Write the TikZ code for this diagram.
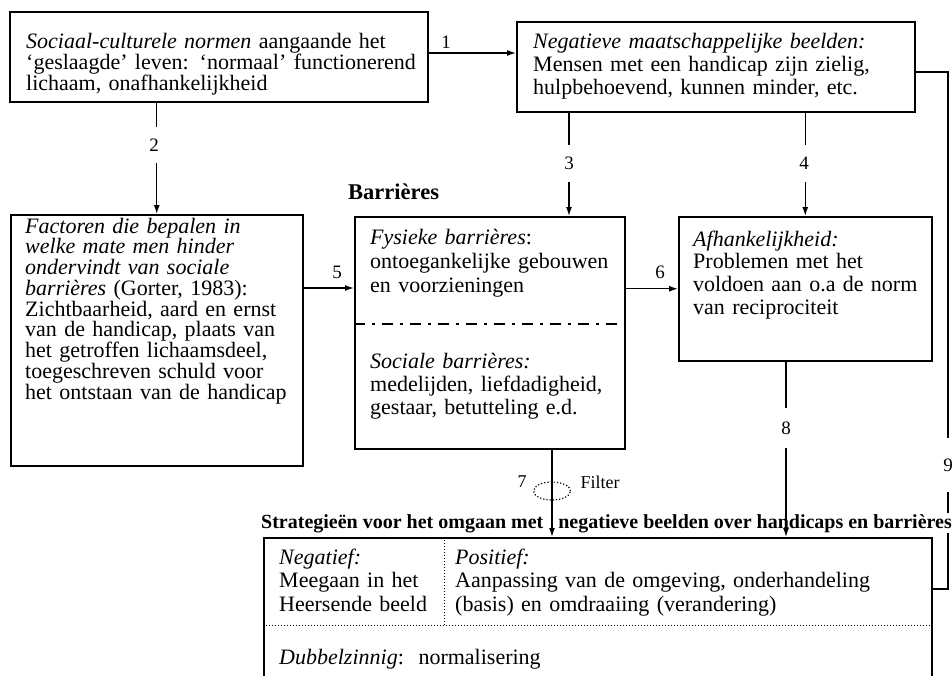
\documentclass[tikz,border=0pt]{standalone}
\usepackage{fontspec}
\setmainfont{Liberation Serif}
\usetikzlibrary{arrows.meta,shapes.geometric}
\begin{document}
\begin{tikzpicture}[x=1pt,y=-1pt,
  box/.style={draw, line width=1.5pt, inner sep=0pt, anchor=north west},
  txt/.style={anchor=base west, inner sep=0pt, text width=430pt, align=left},
  con/.style={line width=1.4pt},
  arr/.style={con, -{Latex[length=9pt,width=6pt]}},
  num/.style={font=\fontsize{19}{19}\selectfont, inner sep=0pt},
  gapnum/.style={num, fill=white, minimum width=12pt},
]
\useasboundingbox (0,0) rectangle (952,675);

% boxes
\node[box, minimum width=418pt, minimum height=90pt] (tl) at (9,11) {};
\node[box, minimum width=398pt, minimum height=90pt] (nb) at (516,21) {};
\node[box, minimum width=292pt, minimum height=251pt] (fac) at (10,214) {};
\node[box, minimum width=270pt, minimum height=232pt] (fys) at (354,216) {};
\node[box, minimum width=253pt, minimum height=144pt] (afh) at (678,216) {};
\node[box, minimum width=668pt, minimum height=170pt] (bb) at (263,537) {};

% dividers
\draw[line width=2.4pt, dash pattern=on 11pt off 7pt on 3pt off 7pt] (354,324) -- (624,324);
\draw[line width=1pt, dotted] (444,537) -- (444,625);
\draw[line width=1pt, dotted] (263,625) -- (931,625);

% texts
\node[txt, font=\fontsize{22}{20}\selectfont] (tlT) at (26,48)
 {\textit{Sociaal-culturele normen} aangaande het\\‘geslaagde’ leven: ‘normaal’ functionerend\\lichaam, onafhankelijkheid};
\node[txt, font=\fontsize{22}{23}\selectfont] (nbT) at (533,48)
 {\textit{Negatieve maatschappelijke beelden:}\\Mensen met een handicap zijn zielig,\\hulpbehoevend, kunnen minder, etc.};
\node[txt, font=\fontsize{22}{20.75}\selectfont] (facT) at (25,233)
 {\textit{Factoren die bepalen in}\\\textit{welke mate men hinder}\\\textit{ondervindt van sociale}\\\textit{barrières} (Gorter, 1983):\\Zichtbaarheid, aard en ernst\\van de handicap, plaats van\\het getroffen lichaamsdeel,\\toegeschreven schuld voor\\het ontstaan van de handicap};
\node[txt, font=\fontsize{22}{24}\selectfont] (fysT) at (370,244)
 {\textit{Fysieke barrières}:\\ontoegankelijke gebouwen\\en voorzieningen};
\node[txt, font=\fontsize{22}{23}\selectfont] (socT) at (370,368)
 {\textit{Sociale barrières:}\\\makebox[238pt][s]{medelijden, liefdadigheid,}\\gestaar, betutteling e.d.};
\node[txt, font=\fontsize{22}{22.7}\selectfont] (afhT) at (693,246)
 {\textit{Afhankelijkheid:}\\Problemen met het\\voldoen aan o.a de norm\\van reciprociteit};
\node[txt, font=\fontsize{22}{23.5}\selectfont] (negT) at (279,564)
 {\textit{Negatief:}\\Meegaan in het\\Heersende beeld};
\node[txt, font=\fontsize{22}{23.5}\selectfont] (posT) at (455,564)
 {\textit{Positief:}\\Aanpassing van de omgeving, onderhandeling\\(basis) en omdraaiing (verandering)};
\node[txt, font=\fontsize{22}{23.5}\selectfont] (dubT) at (279,664)
 {\textit{Dubbelzinnig}:\ \ normalisering};
\node[anchor=base west, inner sep=0pt, font=\fontsize{22.5}{24}\selectfont\bfseries] (barr) at (348,199) {Barrières};

% helper coordinates
\coordinate (y1) at (0,53);
\coordinate (y5) at (0,288);
\coordinate (x3) at (569,0);
\coordinate (x7) at (552,0);
\coordinate (x8) at (786,0);
\coordinate (n9top) at (948,72);
\coordinate (n9bot) at (948,589);

% connectors
\draw[arr] (tl.east |- y1) -- (nb.west |- y1);
\draw[arr] (tl.south -| fac.north) -- (fac.north);
\draw[arr] (nb.south -| x3) -- (fys.north -| x3);
\draw[arr] (nb.south -| afh.north) -- (afh.north);
\draw[arr] (fac.east |- y5) -- (fys.west |- y5);
\draw[arr] (fys.east |- afh.west) -- (afh.west);
\draw[con] (n9top -| nb.east) -- (n9top) -- (n9bot) -- (n9bot -| bb.east);

% labels
\node[num] (l1) at (446,42) {1};
\node[gapnum, minimum height=36pt] (l2) at (154,145) {2};
\node[gapnum, minimum height=37pt] (l3) at (569,163) {3};
\node[gapnum, minimum height=37pt] (l4) at (804,163) {4};
\node[num] (l5) at (337,272) {5};
\node[num] (l6) at (660,272) {6};
\node[gapnum, minimum height=54pt] (l9) at (948,465) {9};

% title
\node[anchor=base west, inner sep=1pt, fill=white, font=\fontsize{20}{22}\selectfont\bfseries] (title) at (260,528)
 {Strategieën voor het omgaan met\hspace{10pt} negatieve beelden over handicaps en barrières};

% arrows 7, 8
\draw[arr] (fys.south -| x7) -- (bb.north -| x7);
\draw[arr] (afh.south -| x8) -- (bb.north -| x8);
\node[gapnum, minimum height=40pt] (l8) at (786,428) {8};
\node[draw, dotted, line width=1.2pt, ellipse, inner sep=0pt, minimum width=37pt, minimum height=18pt] (filt) at (552,491) {};
\node[num, font=\fontsize{18}{18}\selectfont] (l7) at (522,482) {7};
\node[num, font=\fontsize{18}{18}\selectfont] (filterT) at (600,482) {Filter};
\end{tikzpicture}
\end{document}
